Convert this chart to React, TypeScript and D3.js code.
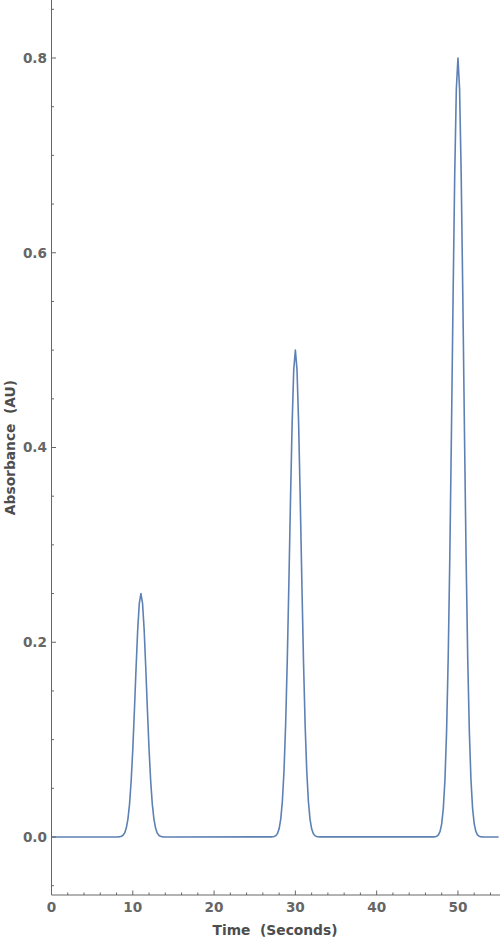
import React from "react";
import * as d3 from "d3";

// Baseline endpoints
const baselineTime = [0, 55];
const baselineAbs = [0, 0];

// Peak 1 (~11 s)
const peak1Time = [8.0, 8.2, 8.4, 8.6, 8.8, 9.0, 9.2, 9.4, 9.6, 9.8, 10.0, 10.2, 10.4, 10.6, 10.8, 11.0, 11.2, 11.4, 11.6, 11.8, 12.0, 12.2, 12.4, 12.6, 12.8, 13.0, 13.2, 13.4, 13.6, 13.8, 14.0];
const peak1Abs = [0.0, 0.0001, 0.0003, 0.0007, 0.0018, 0.0042, 0.0092, 0.0184, 0.0338, 0.0575, 0.0901, 0.1301, 0.1731, 0.2123, 0.24, 0.25, 0.24, 0.2123, 0.1731, 0.1301, 0.0901, 0.0575, 0.0338, 0.0184, 0.0092, 0.0042, 0.0018, 0.0007, 0.0003, 0.0001, 0.0];

// Peak 2 (~30 s)
const peak2Time = [27.0, 27.2, 27.4, 27.6, 27.8, 28.0, 28.2, 28.4, 28.6, 28.8, 29.0, 29.2, 29.4, 29.6, 29.8, 30.0, 30.2, 30.4, 30.6, 30.8, 31.0, 31.2, 31.4, 31.6, 31.8, 32.0, 32.2, 32.4, 32.6, 32.8, 33.0];
const peak2Abs = [0.0001, 0.0002, 0.0005, 0.0014, 0.0036, 0.0084, 0.0184, 0.0367, 0.0677, 0.115, 0.1802, 0.2603, 0.3463, 0.4245, 0.48, 0.5, 0.48, 0.4245, 0.3463, 0.2603, 0.1802, 0.115, 0.0677, 0.0367, 0.0184, 0.0084, 0.0036, 0.0014, 0.0005, 0.0002, 0.0001];

// Peak 3 (~50 s)
const peak3Time = [47.0, 47.2, 47.4, 47.6, 47.8, 48.0, 48.2, 48.4, 48.6, 48.8, 49.0, 49.2, 49.4, 49.6, 49.8, 50.0, 50.2, 50.4, 50.6, 50.8, 51.0, 51.2, 51.4, 51.6, 51.8, 52.0, 52.2, 52.4, 52.6, 52.8, 53.0];
const peak3Abs = [0.0001, 0.0003, 0.0008, 0.0022, 0.0057, 0.0135, 0.0294, 0.0587, 0.1082, 0.1841, 0.2883, 0.4164, 0.5541, 0.6792, 0.768, 0.8, 0.768, 0.6792, 0.5541, 0.4164, 0.2883, 0.1841, 0.1082, 0.0587, 0.0294, 0.0135, 0.0057, 0.0022, 0.0008, 0.0003, 0.0001];

const xMajorTicks = [0, 10, 20, 30, 40, 50];
const yMajorTicks = [0.0, 0.2, 0.4, 0.6, 0.8];
const xMinorTicks = [2, 4, 6, 8, 12, 14, 16, 18, 22, 24, 26, 28, 32, 34, 36, 38, 42, 44, 46, 48, 52, 54];
const yMinorTicks = [-0.05, 0.05, 0.1, 0.15, 0.25, 0.3, 0.35, 0.45, 0.5, 0.55, 0.65, 0.7, 0.75, 0.85];

const xTitle = "Time  (Seconds)";
const yTitle = "Absorbance  (AU)";

export default function App() {
  const W = 500;
  const H = 940;
  const left = 51.5;
  const right = 498.6;
  const top = 0;
  const bottom = 895;

  const x = d3.scaleLinear().domain([0, 55]).range([left, right]);
  const y = d3.scaleLinear().domain([0, 0.8]).range([837, 58]);

  const pts: [number, number][] = [];
  pts.push([baselineTime[0], baselineAbs[0]]);
  [[peak1Time, peak1Abs], [peak2Time, peak2Abs], [peak3Time, peak3Abs]].forEach(([t, a]) => {
    t.forEach((tv, i) => pts.push([tv, a[i]]));
  });
  pts.push([baselineTime[1], baselineAbs[1]]);

  const line = d3
    .line<[number, number]>()
    .x((d) => x(d[0]))
    .y((d) => y(d[1]));

  const axisColor = "#666666";
  const labelColor = "#666666";
  const titleColor = "#4d4d4d";
  const font = "'DejaVu Sans', sans-serif";

  return (
    <svg
      width={W}
      height={H}
      style={{ position: "absolute", left: 0, top: 0, background: "#fff" }}
    >
      <defs>
        <clipPath id="plotclip">
          <rect x={left} y={top} width={right - left + 2} height={bottom - top} />
        </clipPath>
      </defs>
      <path
        d={line(pts) || ""}
        fill="none"
        stroke="#5E81B5"
        strokeWidth={1.6}
        strokeLinejoin="round"
        clipPath="url(#plotclip)"
      />
      {/* axes */}
      <line x1={left} x2={left} y1={top} y2={bottom} stroke={axisColor} strokeWidth={1} />
      <line x1={left} x2={W} y1={bottom} y2={bottom} stroke={axisColor} strokeWidth={1} />
      {xMajorTicks.map((t) => (
        <g key={"xm" + t}>
          <line x1={x(t)} x2={x(t)} y1={bottom} y2={bottom - 4.5} stroke={axisColor} />
          <text
            x={x(t)}
            y={912}
            textAnchor="middle"
            fontFamily={font}
            fontWeight="bold"
            fontSize={13.6}
            fill={labelColor}
          >
            {t}
          </text>
        </g>
      ))}
      {xMinorTicks.map((t) => (
        <line key={"xn" + t} x1={x(t)} x2={x(t)} y1={bottom} y2={bottom - 2.5} stroke={axisColor} />
      ))}
      {yMajorTicks.map((t) => (
        <g key={"ym" + t}>
          <line x1={left} x2={left + 4.5} y1={y(t)} y2={y(t)} stroke={axisColor} />
          <text
            x={47}
            y={y(t) + 4.9}
            textAnchor="end"
            fontFamily={font}
            fontWeight="bold"
            fontSize={13.6}
            fill={labelColor}
          >
            {t.toFixed(1)}
          </text>
        </g>
      ))}
      {yMinorTicks.map((t) => (
        <line key={"yn" + t} x1={left} x2={left + 2.5} y1={y(t)} y2={y(t)} stroke={axisColor} />
      ))}
      <text
        x={(left + right) / 2}
        y={935}
        textAnchor="middle"
        fontFamily={font}
        fontWeight="bold"
        fontSize={13.8}
        fill={titleColor}
        style={{ whiteSpace: "pre" }}
      >
        {xTitle}
      </text>
      <text
        transform={`translate(14.5, ${(top + bottom) / 2}) rotate(-90)`}
        textAnchor="middle"
        fontFamily={font}
        fontWeight="bold"
        fontSize={13.8}
        fill={titleColor}
        style={{ whiteSpace: "pre" }}
      >
        {yTitle}
      </text>
    </svg>
  );
}
